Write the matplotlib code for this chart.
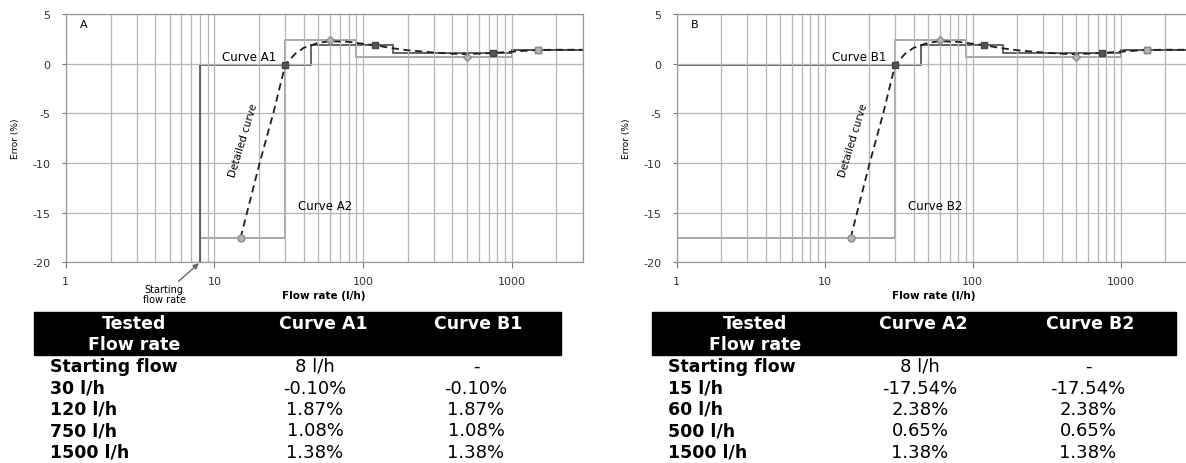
import matplotlib.pyplot as plt
import numpy as np
from matplotlib.patches import Rectangle
from matplotlib.ticker import LogLocator, FuncFormatter, NullFormatter

plt.rcParams['font.family'] = ['DejaVu Sans']
plt.rcParams['axes.unicode_minus'] = False

# tested flow rates (l/h) and measured errors (%)
flow_1 = [30, 120, 750, 1500]
err_1 = [-0.10, 1.87, 1.08, 1.38]
flow_2 = [15, 60, 500, 1500]
err_2 = [-17.54, 2.38, 0.65, 1.38]
start_flow = 8

# step limits of the curves built from the tests
edges_1 = [45, 160, 1000]
edges_2 = [30, 90, 1000]
flow_max = 3000

# detailed error curve
det_flow = [15, 20, 25, 30, 35, 40, 50, 60, 80, 100, 120, 150, 200, 300, 400, 500,
            750, 1000, 1500, 2000, 3000]
det_err = [-17.54, -10.2, -4.9, -0.1, 1.0, 1.6, 2.1, 2.25, 2.2, 2.0, 1.87, 1.6, 1.35,
           1.12, 1.0, 0.95, 1.08, 1.2, 1.38, 1.4, 1.4]

marks_2 = ['o', 'D', 'D', 's']

row_a = ['30 l/h', '120 l/h', '750 l/h', '1500 l/h']
row_b = ['15 l/h', '60 l/h', '500 l/h', '1500 l/h']

W, H = 1186, 464
fig = plt.figure(figsize=(W / 100, H / 100), dpi=100)

dark = '#4a4a4a'
light = '#a0a0a0'
grid_c = '#b5b5b5'


def setup(ax, letter):
    ax.set_xscale('log')
    ax.set_xlim(1, flow_max)
    ax.set_ylim(-20, 5)
    ax.set_yticks(range(-20, 6, 5))
    ax.xaxis.set_major_locator(LogLocator(base=10))
    ax.xaxis.set_minor_locator(LogLocator(base=10, subs=range(2, 10)))
    ax.xaxis.set_major_formatter(FuncFormatter(lambda v, p: f'{v:g}'))
    ax.xaxis.set_minor_formatter(NullFormatter())
    ax.grid(True, which='both', axis='x', color=grid_c, lw=0.9)
    ax.grid(True, which='major', axis='y', color=grid_c, lw=0.9)
    ax.tick_params(axis='x', which='major', length=4, color='#777', labelsize=8,
                   labelcolor='#333', pad=6)
    ax.tick_params(axis='x', which='minor', length=0)
    ax.tick_params(axis='y', length=3, color='#777', labelsize=8, labelcolor='#333', pad=8)
    for s in ax.spines.values():
        s.set_color('#999')
        s.set_linewidth(0.9)
    ax.set_xlabel('Flow rate (l/h)', fontsize=7.5, fontweight='bold', labelpad=3)
    ax.set_ylabel('Error (%)', fontsize=6.5, labelpad=9)
    ax.text(0.027, 0.96, letter, transform=ax.transAxes, fontsize=8, va='center', ha='left')


def draw(ax, x0, n1, n2, from_bottom):
    if from_bottom:
        # starting flow: both curves begin with a rise from the bottom of the scale
        ax.vlines(x0, -20, err_1[0], color=dark, lw=1.2)
    ax.stairs(err_2, [x0] + edges_2 + [flow_max], baseline=None, color=light, lw=1.3)
    ax.stairs(err_1, [x0] + edges_1 + [flow_max], baseline=None, color=dark, lw=1.2)
    ax.plot(det_flow, det_err, color='#1e1e1e', lw=1.3, dashes=(4, 2.5))
    ax.plot(flow_1, err_1, ls='none', marker='s', ms=5, color='#555', mec='#444')
    for f, e, m in zip(flow_2, err_2, marks_2):
        ax.plot(f, e, ls='none', marker=m, ms=5 if m != 'D' else 4.5, color='#b5b5b5', mec='#8a8a8a')
    ax.text(17, 0.75, f'Curve {n1}', fontsize=8.5, ha='center', va='center')
    ax.text(56, -14.3, f'Curve {n2}', fontsize=8.5, ha='center', va='center')
    ax.text(15.6, -7.6, 'Detailed curve', fontsize=7.5, rotation=73, ha='center', va='center')


ax_a = fig.add_axes([65.8 / W, 1 - 263.3 / H, 516.7 / W, 248.3 / H])
setup(ax_a, 'A')
draw(ax_a, start_flow, 'A1', 'A2', True)
ax_a.annotate('Starting\nflow rate', xy=(start_flow, -20), xytext=(4.6, -22.2),
              textcoords='data', annotation_clip=False, fontsize=7, ha='center', va='top',
              linespacing=0.95,
              arrowprops=dict(arrowstyle='-|>', color='#666', lw=1.0, mutation_scale=8,
                              shrinkA=0, shrinkB=1))

ax_b = fig.add_axes([676.6 / W, 1 - 263.3 / H, 514.6 / W, 248.3 / H])
setup(ax_b, 'B')
draw(ax_b, 1, 'B1', 'B2', False)


def table(x0, x1, col_x, head1, head2, labels, v1, v2, start1, start2):
    def fy(y):
        return 1 - y / H

    fig.add_artist(Rectangle((x0 / W, fy(356)), (x1 - x0) / W, 43.5 / H, color='black',
                             transform=fig.transFigure))
    kw = dict(color='white', fontsize=12.5, fontweight='bold', ha='center', va='center',
              transform=fig.transFigure)
    fig.text(col_x[0] / W, fy(324), 'Tested', **kw)
    fig.text(col_x[0] / W, fy(345), 'Flow rate', **kw)
    fig.text(col_x[1] / W, fy(324), head1, **kw)
    fig.text(col_x[2] / W, fy(324), head2, **kw)
    rows_y = [367, 389, 410, 431.5, 453]
    lab = ['Starting flow'] + labels
    c1 = [start1] + [f'{v:.2f}%' for v in v1]
    c2 = [start2] + [f'{v:.2f}%' for v in v2]
    for y, l, a, b in zip(rows_y, lab, c1, c2):
        fig.text((x0 + 16) / W, fy(y), l, fontsize=12.5, fontweight='bold', ha='left', va='center')
        fig.text(col_x[3] / W, fy(y), a, fontsize=13, ha='center', va='center')
        fig.text(col_x[4] / W, fy(y), b, fontsize=13, ha='center', va='center')


table(33.7, 560.7, [134, 323, 478, 315, 476], 'Curve A1', 'Curve B1', row_a, err_1, err_1,
      f'{start_flow} l/h', '-')
table(652, 1176, [755, 923, 1090, 920, 1088], 'Curve A2', 'Curve B2', row_b, err_2, err_2,
      f'{start_flow} l/h', '-')

fig.savefig('out.png', dpi=100)
